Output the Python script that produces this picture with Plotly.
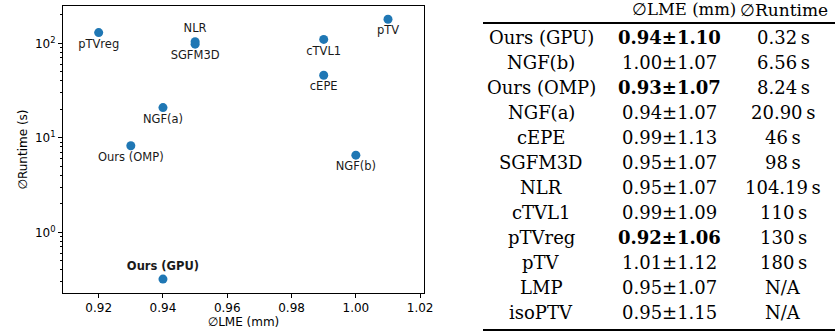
import plotly.graph_objects as go

# ---- data ----
methods = ["Ours (GPU)", "NGF(b)", "Ours (OMP)", "NGF(a)", "cEPE", "SGFM3D",
           "NLR", "cTVL1", "pTVreg", "pTV", "LMP", "isoPTV"]
lme_mean = [0.94, 1.00, 0.93, 0.94, 0.99, 0.95, 0.95, 0.99, 0.92, 1.01, 0.95, 0.95]
lme_std = [1.10, 1.07, 1.07, 1.07, 1.13, 1.07, 1.07, 1.09, 1.06, 1.12, 1.07, 1.15]
runtime_s = [0.32, 6.56, 8.24, 20.90, 46, 98, 104.19, 110, 130, 180, None, None]
lme_bold = [True, False, True, False, False, False, False, False, True, False, False, False]
label_above = ["Ours (GPU)", "NLR"]
x_ticks = [0.92, 0.94, 0.96, 0.98, 1.00, 1.02]
y_ticks = [1, 10, 100]
y_ticktext = ["10<sup>0</sup>", "10<sup>1</sup>", "10<sup>2</sup>"]

W, H = 835, 335
BLUE = "#1f77b4"

# scatter points (methods with runtime)
sx, sy, st, sp = [], [], [], []
for m, x, y in zip(methods, lme_mean, runtime_s):
    if y is None:
        continue
    sx.append(x)
    sy.append(y)
    st.append("<b>%s</b>" % m if m == "Ours (GPU)" else m)
    sp.append("top center" if m in label_above else "bottom center")

fig = go.Figure()
fig.add_trace(go.Scatter(
    x=sx, y=sy, mode="markers+text", text=st, textposition=sp,
    marker=dict(size=9, color=BLUE),
    textfont=dict(family="DejaVu Sans", size=11.5, color="#1a1a1a"),
    showlegend=False, cliponaxis=False, hoverinfo="skip"))

minor_vals = [m * 10 ** e for e in (-1, 0, 1, 2) for m in range(2, 10)]

fig.update_layout(
    width=W, height=H, autosize=False,
    margin=dict(l=0, r=0, t=0, b=0, autoexpand=False),
    paper_bgcolor="white", plot_bgcolor="white",
    font=dict(family="DejaVu Sans", size=12, color="black"),
    xaxis=dict(domain=[63 / W, 424 / W], range=[0.9089, 1.0212], automargin=False,
               tickmode="array", tickvals=x_ticks,
               ticktext=["%.2f" % v for v in x_ticks],
               ticks="outside", ticklen=4, tickwidth=1, tickcolor="black",
               showline=True, linecolor="black", linewidth=1, mirror=True,
               showgrid=False, zeroline=False,
               title=dict(text="∅LME (mm)", standoff=2, font=dict(size=12)),
               tickfont=dict(size=12)),
    yaxis=dict(domain=[1 - 293 / H, 1 - 6 / H], type="log", automargin=False,
               range=[-0.642, 2.395],
               tickmode="array", tickvals=y_ticks, ticktext=y_ticktext,
               ticks="outside", ticklen=4, tickwidth=1, tickcolor="black",
               minor=dict(tickmode="array", tickvals=minor_vals, ticks="outside",
                          ticklen=2.5, tickcolor="black", showgrid=False),
               showline=True, linecolor="black", linewidth=1, mirror=True,
               showgrid=False, zeroline=False,
               title=dict(text="∅Runtime (s)", standoff=4, font=dict(size=12)),
               tickfont=dict(size=12)),
)

# ---- table ----
SERIF = "DejaVu Serif"
TS = 18
col_label, col_lme, col_rt = 541, 669, 783
row0, row_h = 37.3, 25.0


def ann(text, xp, yp, size=TS):
    fig.add_annotation(x=xp / W, y=1 - yp / H, xref="paper", yref="paper",
                       text=text, showarrow=False, xanchor="center", yanchor="middle",
                       font=dict(family=SERIF, size=size, color="black"))


ann("∅LME (mm)", 684, 10, 16.5)
ann("∅Runtime", 784, 10, 17)

for i, m in enumerate(methods):
    y = row0 + i * row_h
    ann(m, col_label, y)
    s = "%.2f±%.2f" % (lme_mean[i], lme_std[i])
    if lme_bold[i]:
        s = "<b>%s</b>" % s
    ann(s, col_lme, y)
    r = runtime_s[i]
    if r is None:
        rs = "N/A"
    elif float(r).is_integer():
        rs = "%d\u2009s" % r
    else:
        rs = "%.2f\u2009s" % r
    ann(rs, col_rt, y)

for yl in (23, 330):
    fig.add_shape(type="line", xref="paper", yref="paper",
                  x0=483 / W, x1=1.0, y0=1 - yl / H, y1=1 - yl / H,
                  line=dict(color="black", width=2))

fig.write_html("out.html",
               config={"displayModeBar": False, "staticPlot": True},
               post_script="document.body.style.margin='0';"
                           "document.body.style.overflow='hidden';")
